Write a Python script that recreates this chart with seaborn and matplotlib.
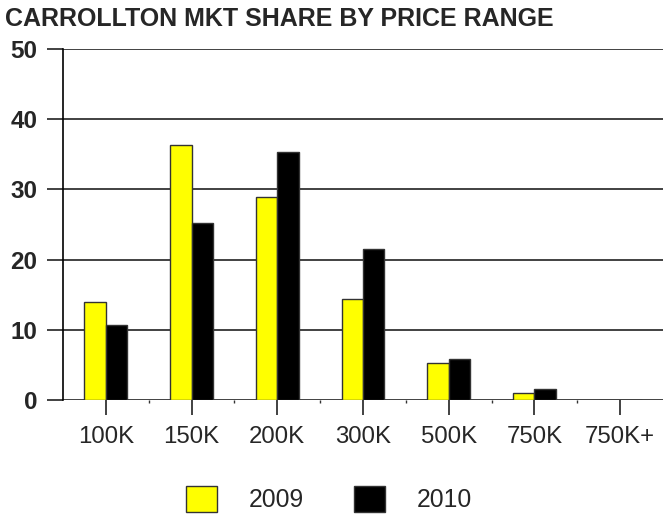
import matplotlib
matplotlib.use("Agg")
import matplotlib.pyplot as plt
import seaborn as sns
import pandas as pd
from matplotlib.patches import Patch

categories = ["100K", "150K", "200K", "300K", "500K", "750K", "750K+"]
share_2009 = [14.0, 36.3, 28.9, 14.4, 5.2, 1.0, 0.0]
share_2010 = [10.7, 25.2, 35.3, 21.5, 5.9, 1.5, 0.0]
years = ["2009", "2010"]
colors = ["#FFFF00", "#000000"]

df = pd.DataFrame({
    "Range": categories * 2,
    "Share": share_2009 + share_2010,
    "Year": [years[0]] * len(categories) + [years[1]] * len(categories),
})

sns.set_style("white")
plt.rcParams["font.family"] = ["Liberation Sans", "DejaVu Sans"]

fig = plt.figure(figsize=(6.69, 5.16), dpi=100)
ax = fig.add_axes([63/669, 1 - 400/516, 600/669, 351/516])

sns.barplot(data=df, x="Range", y="Share", hue="Year", palette=colors,
            saturation=1, width=0.5, edgecolor="#333333", linewidth=1, ax=ax,
            legend=False, zorder=3)

ax.set_ylim(0, 50)
ax.set_xlim(-0.5, len(categories) - 0.5)
ax.set_yticks(range(0, 51, 10))
ax.yaxis.grid(True, color="#333333", linewidth=1.3, zorder=0)
ax.set_axisbelow(True)
for s in ["top", "right", "bottom"]:
    ax.spines[s].set_visible(False)
ax.spines["left"].set_color("black")
ax.spines["left"].set_linewidth(1.2)
ax.set_xlabel("")
ax.set_ylabel("")

ax.tick_params(axis="y", length=11.5, width=1.3, color="#333333", pad=7,
               labelsize=17.5, left=True)
for lab in ax.get_yticklabels():
    lab.set_fontweight("bold")
ax.set_xticks(range(len(categories)))
ax.set_xticklabels(categories)
ax.tick_params(axis="x", length=11, width=1.3, color="#333333", pad=8,
               labelsize=17.3, bottom=True)
ax.set_xticks([i + 0.5 for i in range(len(categories) - 1)], minor=True)
ax.tick_params(axis="x", which="minor", length=2, width=1, color="#333333", bottom=True)

fig.text(5/669, 1 - 19/516, "CARROLLTON MKT SHARE BY PRICE RANGE",
         fontsize=18, fontweight="bold", ha="left", va="center")

handles = [Patch(facecolor=c, edgecolor="#333333", linewidth=1) for c in colors]
fig.legend(handles, years, loc="center", bbox_to_anchor=(329/669, 1 - 499/516),
           ncol=2, frameon=False, fontsize=17.8, handlelength=1.25, handleheight=1.3,
           columnspacing=2.0, handletextpad=1.3, borderpad=0, borderaxespad=0)

fig.savefig("out.png", dpi=100)
